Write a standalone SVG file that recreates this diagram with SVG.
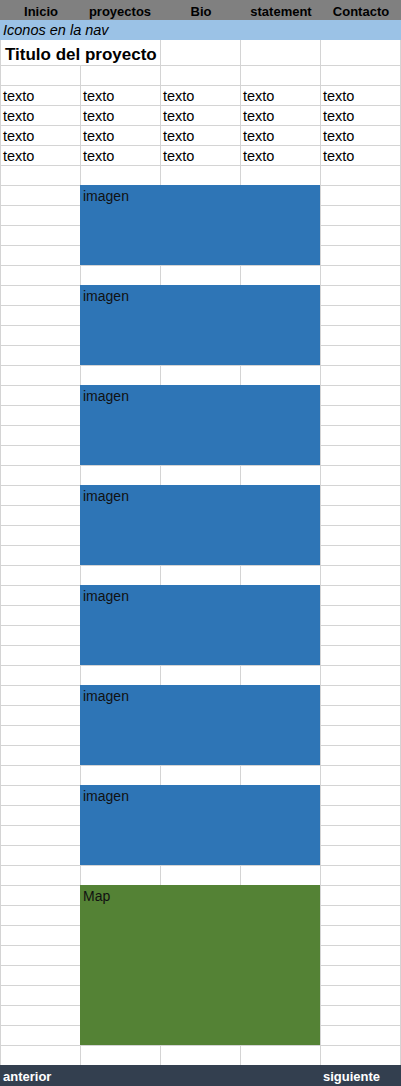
<svg xmlns="http://www.w3.org/2000/svg" width="401" height="1086" viewBox="0 0 401 1086">
<style>
.grid{stroke:#D4D4D4;stroke-width:1;fill:none}
.hdr{font-family:"Liberation Sans",Arial,sans-serif;font-size:13px;font-weight:bold;fill:#000;text-anchor:middle}
.t{font-family:"Liberation Sans",Arial,sans-serif;font-size:14.5px;fill:#000}
.lbl{font-family:"Liberation Sans",Arial,sans-serif;font-size:14px;fill:#111}
.foot{font-family:"Liberation Sans",Arial,sans-serif;font-size:13px;font-weight:bold;fill:#fff}
.img{fill:#2E75B6}
.map{fill:#548235}
</style>
<rect x="0" y="0" width="401" height="1086" fill="#fff"/>
<g id="grid">
<path class="grid" d="M0.5 40V1065M80.5 65V1065M160.5 40V1065M240.5 40V1065M320.5 40V1065M400.5 40V1065"/>
<path class="grid" d="M0 65.5H401M0 85.5H401M0 105.5H401M0 125.5H401M0 145.5H401M0 165.5H401M0 185.5H401M0 205.5H401M0 225.5H401M0 245.5H401M0 265.5H401M0 285.5H401M0 305.5H401M0 325.5H401M0 345.5H401M0 365.5H401M0 385.5H401M0 405.5H401M0 425.5H401M0 445.5H401M0 465.5H401M0 485.5H401M0 505.5H401M0 525.5H401M0 545.5H401M0 565.5H401M0 585.5H401M0 605.5H401M0 625.5H401M0 645.5H401M0 665.5H401M0 685.5H401M0 705.5H401M0 725.5H401M0 745.5H401M0 765.5H401M0 785.5H401M0 805.5H401M0 825.5H401M0 845.5H401M0 865.5H401M0 885.5H401M0 905.5H401M0 925.5H401M0 945.5H401M0 965.5H401M0 985.5H401M0 1005.5H401M0 1025.5H401M0 1045.5H401"/>
</g>
<g id="nav">
<rect x="0" y="0" width="401" height="20" fill="#808080"/>
<text class="hdr" x="41" y="16">Inicio</text>
<text class="hdr" x="120" y="16">proyectos</text>
<text class="hdr" x="201" y="16">Bio</text>
<text class="hdr" x="281" y="16">statement</text>
<text class="hdr" x="361" y="16">Contacto</text>
</g>
<g id="iconos">
<rect x="0" y="20" width="401" height="20" fill="#9BC2E6"/>
<text class="t" x="3" y="35" font-style="italic" font-size="13.5">Iconos en la nav</text>
</g>
<g id="titulo">
<text x="5" y="60" font-family="'Liberation Sans',Arial,sans-serif" font-size="17" font-weight="bold" fill="#000">Titulo del proyecto</text>
</g>
<g id="textos">
<text class="t" x="3" y="101">texto</text><text class="t" x="83" y="101">texto</text><text class="t" x="163" y="101">texto</text><text class="t" x="243" y="101">texto</text><text class="t" x="323" y="101">texto</text>
<text class="t" x="3" y="121">texto</text><text class="t" x="83" y="121">texto</text><text class="t" x="163" y="121">texto</text><text class="t" x="243" y="121">texto</text><text class="t" x="323" y="121">texto</text>
<text class="t" x="3" y="141">texto</text><text class="t" x="83" y="141">texto</text><text class="t" x="163" y="141">texto</text><text class="t" x="243" y="141">texto</text><text class="t" x="323" y="141">texto</text>
<text class="t" x="3" y="161">texto</text><text class="t" x="83" y="161">texto</text><text class="t" x="163" y="161">texto</text><text class="t" x="243" y="161">texto</text><text class="t" x="323" y="161">texto</text>
</g>
<g id="imagen1"><rect class="img" x="80" y="185" width="240" height="80"/><text class="lbl" x="83" y="201">imagen</text></g>
<g id="imagen2"><rect class="img" x="80" y="285" width="240" height="80"/><text class="lbl" x="83" y="301">imagen</text></g>
<g id="imagen3"><rect class="img" x="80" y="385" width="240" height="80"/><text class="lbl" x="83" y="401">imagen</text></g>
<g id="imagen4"><rect class="img" x="80" y="485" width="240" height="80"/><text class="lbl" x="83" y="501">imagen</text></g>
<g id="imagen5"><rect class="img" x="80" y="585" width="240" height="80"/><text class="lbl" x="83" y="601">imagen</text></g>
<g id="imagen6"><rect class="img" x="80" y="685" width="240" height="80"/><text class="lbl" x="83" y="701">imagen</text></g>
<g id="imagen7"><rect class="img" x="80" y="785" width="240" height="80"/><text class="lbl" x="83" y="801">imagen</text></g>
<g id="map"><rect class="map" x="80" y="885" width="240" height="160"/><text class="lbl" x="83" y="901">Map</text></g>
<g id="footer">
<rect x="0" y="1065" width="401" height="21" fill="#333F4F"/>
<text class="foot" x="3" y="1081">anterior</text>
<text class="foot" x="323" y="1081">siguiente</text>
</g>
<g id="connectors"/>
</svg>
